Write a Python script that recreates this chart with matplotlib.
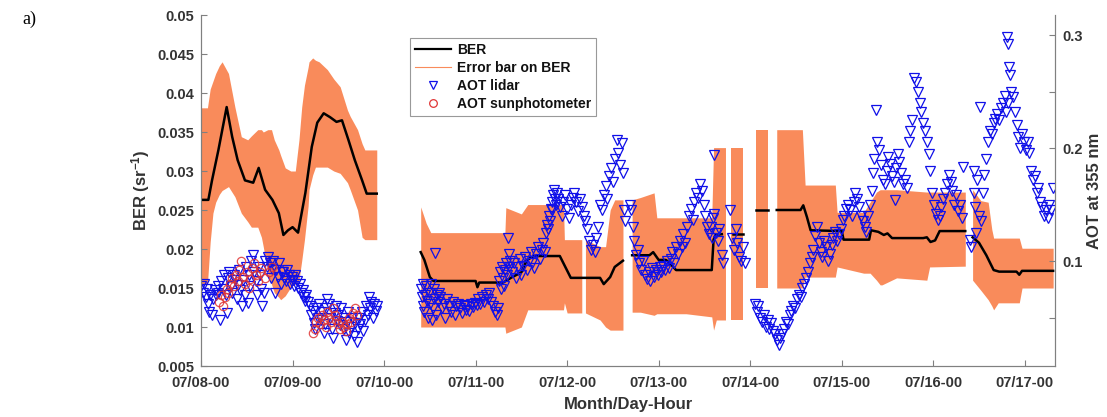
import numpy as np
import matplotlib
matplotlib.use("Agg")
import matplotlib.pyplot as plt
from matplotlib.lines import Line2D
from matplotlib.ticker import FuncFormatter

plt.rcParams['font.family'] = ['Liberation Sans', 'DejaVu Sans']
plt.rcParams['font.weight'] = 'bold'
plt.rcParams['mathtext.fontset'] = 'custom'
plt.rcParams['mathtext.rm'] = 'Liberation Sans:bold'
plt.rcParams['mathtext.bf'] = 'Liberation Sans:bold'
plt.rcParams['mathtext.default'] = 'bf'

# time is in days since 07/08 00:00
day_ticks = [0, 1, 2, 3, 4, 5, 6, 7, 8, 9]
day_labels = ['07/08-00', '07/09-00', '07/10-00', '07/11-00', '07/12-00',
              '07/13-00', '07/14-00', '07/15-00', '07/16-00', '07/17-00']

# ---------------- BER line (segments) ----------------
ber_t1 = [0.00, 0.08, 0.12, 0.19, 0.28, 0.34, 0.40, 0.48, 0.57, 0.63, 0.70, 0.78, 0.85, 0.90,
          0.95, 1.00, 1.06, 1.14, 1.21, 1.27, 1.34, 1.41, 1.48, 1.54, 1.61, 1.68, 1.76, 1.81, 1.92]
ber_v1 = [0.0263, 0.0263, 0.0288, 0.0327, 0.0382, 0.0344, 0.0314, 0.0288, 0.0285, 0.0304, 0.0276,
          0.0263, 0.0246, 0.0218, 0.0224, 0.0228, 0.0221, 0.0272, 0.0331, 0.0362, 0.0374, 0.0369,
          0.0363, 0.0365, 0.0340, 0.0314, 0.0288, 0.0271, 0.0271]
ber_t2 = [2.40, 2.44, 2.50, 2.54, 3.00, 3.02, 3.04, 3.30, 3.40, 3.50, 3.56, 3.64, 3.92, 3.98,
          4.04, 4.36, 4.40, 4.47, 4.52, 4.61]
ber_v2 = [0.0196, 0.0186, 0.0164, 0.0159, 0.0159, 0.0151, 0.0157, 0.0157, 0.0164, 0.0170,
          0.0186, 0.0191, 0.0191, 0.0177, 0.0163, 0.0163, 0.0155, 0.0164, 0.0177, 0.0185]
ber_t3 = [4.71, 4.90, 4.94, 5.00, 5.08, 5.12, 5.19, 5.58, 5.60, 5.62, 5.69]
ber_v3 = [0.0192, 0.0192, 0.0196, 0.0186, 0.0186, 0.0182, 0.0173, 0.0173, 0.0212, 0.0218, 0.0219]
ber_t4 = [5.81, 5.92]
ber_v4 = [0.0219, 0.0219]
ber_t5 = [6.06, 6.20]
ber_v5 = [0.0250, 0.0250]
ber_t6 = [6.29, 6.55, 6.58, 6.62, 6.66, 7.00, 7.02, 7.30, 7.32, 7.40, 7.46, 7.50, 7.55, 7.89,
          7.93, 7.97, 8.02, 8.07, 8.35]
ber_v6 = [0.0250, 0.0250, 0.0256, 0.0241, 0.0224, 0.0223, 0.0212, 0.0212, 0.0224, 0.0222,
          0.0218, 0.0220, 0.0214, 0.0214, 0.0215, 0.0209, 0.0211, 0.0223, 0.0223]
ber_t7 = [8.43, 8.50, 8.58, 8.66, 8.72, 8.91, 8.94, 8.97, 9.31]
ber_v7 = [0.0215, 0.0208, 0.0192, 0.0173, 0.0171, 0.0171, 0.0167, 0.0172, 0.0172]

# ---------------- BER error band (segments) ----------------
err_t1 = [0.00, 0.07, 0.10, 0.13, 0.16, 0.20, 0.23, 0.30, 0.37, 0.44, 0.51, 0.55, 0.62, 0.66,
          0.68, 0.73, 0.77, 0.80, 0.85, 0.87, 0.92, 0.98, 1.03, 1.07, 1.10, 1.13, 1.17, 1.18,
          1.22, 1.25, 1.29, 1.38, 1.45, 1.52, 1.60, 1.63, 1.71, 1.76, 1.79, 1.92]
err_lo1 = [0.0155, 0.0155, 0.0209, 0.0246, 0.0260, 0.0270, 0.0275, 0.0280, 0.0267, 0.0246,
           0.0235, 0.0228, 0.0228, 0.0215, 0.0203, 0.0169, 0.0155, 0.0144, 0.0138, 0.0135,
           0.0140, 0.0151, 0.0155, 0.0160, 0.0185, 0.0212, 0.0255, 0.0276, 0.0295, 0.0305,
           0.0305, 0.0305, 0.0300, 0.0297, 0.0285, 0.0276, 0.0250, 0.0215, 0.0212, 0.0212]
err_hi1 = [0.0381, 0.0381, 0.0405, 0.0415, 0.0425, 0.0435, 0.0440, 0.0425, 0.0382, 0.0344,
           0.0340, 0.0345, 0.0353, 0.0353, 0.0350, 0.0353, 0.0353, 0.0340, 0.0327, 0.0320,
           0.0304, 0.0300, 0.0300, 0.0340, 0.0382, 0.0410, 0.0433, 0.0440, 0.0445, 0.0442,
           0.0440, 0.0430, 0.0418, 0.0408, 0.0378, 0.0370, 0.0353, 0.0335, 0.0327, 0.0327]
err_t2 = [2.40, 2.46, 2.51, 3.32, 3.33, 3.50, 3.57, 3.96, 3.97, 4.00, 4.16]
err_lo2 = [0.0100, 0.0100, 0.0100, 0.0100, 0.0092, 0.0100, 0.0122, 0.0122, 0.0131, 0.0118, 0.0118]
err_hi2 = [0.0254, 0.0233, 0.0221, 0.0221, 0.0253, 0.0245, 0.0257, 0.0257, 0.0212, 0.0212, 0.0212]
err_t3 = [4.20, 4.36, 4.42, 4.47, 4.52, 4.61]
err_lo3 = [0.0118, 0.0109, 0.0100, 0.0096, 0.0096, 0.0096]
err_hi3 = [0.0212, 0.0203, 0.0203, 0.0250, 0.0263, 0.0263]
err_t4 = [4.71, 4.80, 4.95, 4.98, 5.30, 5.58, 5.60, 5.63, 5.73]
err_lo4 = [0.0119, 0.0119, 0.0115, 0.0117, 0.0117, 0.0113, 0.0096, 0.0109, 0.0109]
err_hi4 = [0.0263, 0.0266, 0.0272, 0.0240, 0.0240, 0.0240, 0.0330, 0.0330, 0.0330]
err_t5 = [5.79, 5.92]
err_lo5 = [0.0109, 0.0109]
err_hi5 = [0.0330, 0.0330]
err_t6 = [6.06, 6.20]
err_lo6 = [0.0150, 0.0150]
err_hi6 = [0.0353, 0.0353]
err_t7 = [6.29, 6.57, 6.60, 6.93, 6.95, 7.24, 7.31, 7.38, 7.42, 7.44, 7.60, 7.93, 7.96, 8.35]
err_lo7 = [0.0150, 0.0150, 0.0164, 0.0164, 0.0177, 0.0169, 0.0169, 0.0160, 0.0154, 0.0154,
           0.0163, 0.0160, 0.0177, 0.0178]
err_hi7 = [0.0353, 0.0353, 0.0282, 0.0282, 0.0247, 0.0247, 0.0260, 0.0273, 0.0276, 0.0276,
           0.0276, 0.0273, 0.0273, 0.0273]
err_t8 = [8.43, 8.52, 8.60, 8.64, 8.66, 8.71, 8.94, 8.97, 9.31]
err_lo8 = [0.0160, 0.0147, 0.0135, 0.0127, 0.0122, 0.0131, 0.0131, 0.0150, 0.0150]
err_hi8 = [0.0276, 0.0262, 0.0260, 0.0225, 0.0214, 0.0214, 0.0214, 0.0201, 0.0201]

# ---------------- AOT lidar ----------------
lidar_t1 = [0.00, 0.02, 0.03, 0.05, 0.06, 0.08, 0.09, 0.10, 0.12, 0.13, 0.15, 0.16, 0.18, 0.19,
            0.21, 0.22, 0.24, 0.25, 0.27, 0.28, 0.30, 0.31, 0.33, 0.34, 0.36, 0.37, 0.39, 0.40,
            0.42, 0.43, 0.45, 0.46, 0.48, 0.49, 0.51, 0.52, 0.54, 0.55,
            0.57, 0.58, 0.60, 0.61, 0.63, 0.64, 0.66, 0.67, 0.69, 0.70, 0.72, 0.73, 0.75, 0.76,
            0.78, 0.79, 0.81, 0.82, 0.84, 0.85, 0.87, 0.88,
            0.90, 0.91, 0.93, 0.94, 0.96, 0.97, 0.99, 1.00, 1.02, 1.03, 1.05, 1.06, 1.08, 1.09,
            1.11, 1.12, 1.14, 1.15, 1.17,
            1.19, 1.20, 1.22, 1.23, 1.25, 1.26, 1.28, 1.29, 1.31, 1.32, 1.34, 1.35, 1.37, 1.38,
            1.40, 1.41, 1.43, 1.44, 1.46, 1.47, 1.49, 1.50, 1.52, 1.53, 1.55, 1.56, 1.58, 1.59,
            1.61, 1.62, 1.64, 1.65, 1.67, 1.68, 1.70, 1.71, 1.73, 1.74, 1.76, 1.77, 1.79, 1.80,
            1.82, 1.83, 1.85, 1.86, 1.88, 1.89, 1.91, 1.92]
lidar_aot1 = [0.078, 0.072, 0.080, 0.068, 0.075, 0.062, 0.055, 0.070, 0.052, 0.066, 0.074, 0.070,
              0.078, 0.072, 0.048, 0.082, 0.075, 0.088, 0.070, 0.054, 0.085, 0.090, 0.078, 0.072,
              0.088, 0.083, 0.066, 0.079, 0.092, 0.074, 0.060, 0.083, 0.070, 0.095, 0.063, 0.088,
              0.078, 0.100,
              0.105, 0.090, 0.082, 0.070, 0.095, 0.088, 0.075, 0.060, 0.072, 0.100, 0.095, 0.104,
              0.098, 0.085, 0.093, 0.100, 0.072, 0.092, 0.086, 0.098, 0.080, 0.090,
              0.090, 0.085, 0.082, 0.092, 0.088, 0.080, 0.086, 0.083, 0.078, 0.088, 0.082, 0.076,
              0.080, 0.072, 0.074, 0.068, 0.065, 0.070, 0.064,
              0.060, 0.052, 0.056, 0.045, 0.040, 0.058, 0.050, 0.062, 0.048, 0.055, 0.036, 0.044,
              0.058, 0.066, 0.062, 0.050, 0.040, 0.032, 0.054, 0.060, 0.047, 0.052, 0.043, 0.058,
              0.050, 0.040, 0.030, 0.046, 0.055, 0.036, 0.042, 0.050, 0.034, 0.045, 0.028, 0.040,
              0.050, 0.044, 0.055, 0.038, 0.048, 0.060, 0.052, 0.068, 0.058, 0.064, 0.050, 0.062,
              0.056, 0.060]

lidar_t2 = [2.40, 2.41, 2.42, 2.43, 2.44, 2.45, 2.46, 2.47, 2.48, 2.49, 2.50, 2.51, 2.52, 2.53,
            2.54, 2.55, 2.56, 2.57, 2.58, 2.59, 2.60,
            2.61, 2.63, 2.65, 2.67, 2.69, 2.71, 2.73, 2.75, 2.77, 2.79, 2.81, 2.83, 2.85, 2.87,
            2.89, 2.91, 2.93, 2.95, 2.97, 2.99, 3.01, 3.03, 3.05, 3.07, 3.09, 3.11, 3.13, 3.15,
            3.17, 3.19, 3.21, 3.23, 3.25,
            3.26, 3.27, 3.28, 3.29, 3.30, 3.31, 3.32, 3.33, 3.34, 3.35, 3.36, 3.37, 3.38,
            3.40, 3.42, 3.44, 3.46, 3.48, 3.50, 3.52, 3.54, 3.56, 3.58, 3.60, 3.62, 3.64, 3.66,
            3.68, 3.70, 3.72, 3.74, 3.76,
            3.77, 3.78, 3.79, 3.80, 3.81, 3.82, 3.83, 3.84, 3.85, 3.86, 3.87, 3.88, 3.89,
            3.90, 3.92, 3.94, 3.96, 3.98, 4.00, 4.02, 4.04, 4.06, 4.08, 4.10, 4.12, 4.14, 4.16,
            4.18, 4.20, 4.22, 4.24, 4.26, 4.28, 4.30, 4.32, 4.34,
            4.36, 4.38, 4.40, 4.42, 4.44, 4.46, 4.48, 4.50, 4.52, 4.54, 4.56, 4.58, 4.60, 4.61,
            4.62, 4.63, 4.69, 4.70, 4.72]
lidar_aot2 = [0.075, 0.068, 0.060, 0.080, 0.055, 0.070, 0.078, 0.065, 0.050, 0.072, 0.062, 0.080,
              0.048, 0.058, 0.075, 0.066, 0.107, 0.052, 0.070, 0.064, 0.072,
              0.068, 0.058, 0.062, 0.050, 0.066, 0.060, 0.055, 0.064, 0.052, 0.060, 0.062, 0.058,
              0.054, 0.061, 0.057, 0.060, 0.056, 0.062, 0.059, 0.063, 0.061, 0.066, 0.062, 0.068,
              0.064, 0.070, 0.066, 0.072, 0.064, 0.060, 0.055, 0.052, 0.058,
              0.082, 0.090, 0.075, 0.095, 0.085, 0.078, 0.092, 0.098, 0.088, 0.120, 0.106, 0.095,
              0.100,
              0.090, 0.098, 0.085, 0.095, 0.102, 0.088, 0.096, 0.104, 0.092, 0.100, 0.108, 0.098,
              0.094, 0.106, 0.112, 0.102, 0.110, 0.116, 0.108,
              0.125, 0.132, 0.128, 0.140, 0.135, 0.146, 0.152, 0.145, 0.158, 0.163, 0.155, 0.150,
              0.160,
              0.155, 0.148, 0.140, 0.152, 0.158, 0.146, 0.138, 0.150, 0.156, 0.160, 0.152, 0.144,
              0.155, 0.148, 0.140, 0.135, 0.128, 0.118, 0.110, 0.114, 0.108, 0.120, 0.130,
              0.150, 0.145, 0.158, 0.166, 0.155, 0.175, 0.182, 0.170, 0.190, 0.207, 0.196, 0.185,
              0.204, 0.178, 0.145, 0.135, 0.150, 0.145, 0.130]

lidar_t3 = [4.73, 4.75, 4.77, 4.79, 4.81, 4.83, 4.85, 4.87, 4.89, 4.91, 4.93, 4.95, 4.97, 4.99,
            5.01, 5.03, 5.05, 5.07, 5.09, 5.11, 5.13, 5.15, 5.17, 5.19, 5.21, 5.23, 5.25, 5.27,
            5.29, 5.31, 5.33, 5.35, 5.37, 5.39, 5.41, 5.43, 5.45, 5.47, 5.49, 5.51, 5.53, 5.55,
            5.57, 5.58, 5.59, 5.60, 5.61, 5.63, 5.65, 5.66, 5.69, 5.70,
            5.78, 5.80, 5.82, 5.84, 5.86, 5.88, 5.90, 5.92, 5.94,
            6.05, 6.07, 6.09, 6.11, 6.13, 6.15, 6.17, 6.19, 6.21, 6.23, 6.25, 6.27, 6.29, 6.31,
            6.33, 6.35, 6.37, 6.39, 6.41, 6.43, 6.45, 6.47, 6.49, 6.51, 6.53, 6.55, 6.57, 6.59,
            6.61, 6.63, 6.65, 6.67]
lidar_aot3 = [0.118, 0.105, 0.110, 0.098, 0.092, 0.100, 0.088, 0.084, 0.090, 0.082, 0.094, 0.086,
              0.092, 0.088, 0.095, 0.090, 0.096, 0.092, 0.100, 0.094, 0.102, 0.108, 0.098, 0.112,
              0.106, 0.118, 0.112, 0.124, 0.116, 0.130, 0.140, 0.146, 0.136, 0.152, 0.160, 0.156,
              0.168, 0.162, 0.150, 0.140, 0.130, 0.124,
              0.130, 0.120, 0.138, 0.194, 0.142, 0.125, 0.118, 0.128, 0.105, 0.098,
              0.145, 0.120, 0.110, 0.128, 0.116, 0.104, 0.100, 0.112, 0.098,
              0.062, 0.055, 0.060, 0.050, 0.046, 0.052, 0.042, 0.048, 0.040, 0.045, 0.038, 0.035,
              0.030, 0.026, 0.032, 0.035, 0.040, 0.046, 0.044, 0.052, 0.056, 0.060, 0.058, 0.066,
              0.070, 0.068, 0.076, 0.080, 0.085, 0.090, 0.098, 0.104]

lidar_t4 = [6.69, 6.71, 6.73, 6.75, 6.77, 6.79, 6.81, 6.83, 6.85, 6.87, 6.89, 6.91, 6.93, 6.95,
            6.97, 6.99, 7.01, 7.03, 7.05, 7.07, 7.09, 7.11, 7.13, 7.15, 7.17, 7.19, 7.21, 7.23,
            7.25, 7.27, 7.29, 7.31, 7.33,
            7.34, 7.35, 7.37, 7.39, 7.41, 7.43, 7.45, 7.47, 7.49, 7.51, 7.53, 7.55, 7.57, 7.58,
            7.59, 7.61, 7.63, 7.65, 7.67, 7.69, 7.71,
            7.73, 7.75, 7.77, 7.79, 7.81, 7.83, 7.85, 7.87, 7.89, 7.91, 7.93, 7.95,
            7.97, 7.99, 8.01, 8.03, 8.05, 8.07, 8.09, 8.11,
            8.13, 8.15, 8.17, 8.19, 8.21, 8.23, 8.25, 8.27, 8.29, 8.31, 8.33, 8.40, 8.41,
            8.44, 8.45, 8.46, 8.47, 8.48, 8.50, 8.51, 8.52, 8.54, 8.56, 8.58,
            8.60, 8.62, 8.64, 8.66, 8.68, 8.70, 8.72, 8.74, 8.76, 8.78, 8.80, 8.82,
            8.81, 8.82, 8.83, 8.84,
            8.85, 8.87, 8.89, 8.91, 8.93, 8.95, 8.97, 8.99, 9.01, 9.03, 9.05,
            9.07, 9.09, 9.11, 9.13, 9.15, 9.17, 9.19, 9.21, 9.23, 9.25, 9.27, 9.29, 9.31]
lidar_aot4 = [0.110, 0.122, 0.130, 0.116, 0.108, 0.104, 0.118, 0.112, 0.100, 0.106, 0.114, 0.120,
              0.126, 0.118, 0.124, 0.128, 0.136, 0.140, 0.146, 0.150, 0.145, 0.140, 0.152, 0.160,
              0.155, 0.148, 0.140, 0.135, 0.130, 0.126, 0.140, 0.150, 0.162,
              0.178, 0.190, 0.234, 0.205, 0.198, 0.185, 0.172, 0.168, 0.180, 0.192, 0.186, 0.175,
              0.170, 0.154, 0.182, 0.195, 0.188, 0.178, 0.168, 0.172, 0.165,
              0.205, 0.215, 0.225, 0.262, 0.258, 0.250, 0.240, 0.232, 0.222, 0.215, 0.205, 0.195,
              0.180, 0.160, 0.150, 0.142, 0.136, 0.140, 0.148, 0.155,
              0.160, 0.168, 0.176, 0.170, 0.162, 0.150, 0.158, 0.144, 0.150, 0.138, 0.183, 0.119,
              0.112,
              0.180, 0.160, 0.148, 0.125, 0.172, 0.140, 0.236, 0.135, 0.160, 0.176, 0.190,
              0.205, 0.215, 0.212, 0.222, 0.226, 0.230, 0.225, 0.235, 0.240, 0.246, 0.232, 0.240,
              0.298, 0.292, 0.272, 0.265,
              0.250, 0.245, 0.232, 0.220, 0.210, 0.200, 0.212, 0.205, 0.198, 0.205, 0.196,
              0.180, 0.172, 0.175, 0.160, 0.165, 0.152, 0.148, 0.140, 0.145, 0.138, 0.150, 0.145,
              0.165]

# ---------------- AOT sunphotometer ----------------
sun_t = [0.20, 0.22, 0.24, 0.26, 0.28, 0.30, 0.32, 0.34, 0.36, 0.38, 0.40, 0.42, 0.44, 0.46,
         0.48, 0.50, 0.52, 0.54, 0.56, 0.58, 0.60, 0.62, 0.64, 0.66, 0.70, 0.74, 0.78,
         1.22, 1.24, 1.26, 1.28, 1.30, 1.32, 1.34, 1.36, 1.38, 1.40, 1.42, 1.44, 1.46, 1.48,
         1.50, 1.52, 1.54, 1.56, 1.58, 1.60, 1.62, 1.64, 1.66, 1.68, 1.70]
sun_aot = [0.064, 0.070, 0.060, 0.068, 0.075, 0.072, 0.080, 0.085, 0.078, 0.088, 0.082, 0.092,
           0.100, 0.086, 0.080, 0.090, 0.076, 0.084, 0.094, 0.098, 0.088, 0.082, 0.090, 0.094,
           0.085, 0.090, 0.095,
           0.036, 0.040, 0.046, 0.050, 0.044, 0.052, 0.048, 0.042, 0.055, 0.050, 0.046, 0.058,
           0.052, 0.048, 0.044, 0.040, 0.046, 0.042, 0.038, 0.044, 0.050, 0.046, 0.054, 0.058,
           0.052]

band_color = '#F98B5B'
axis_color = '#808080'
text_color = '#333333'

fig = plt.figure(figsize=(11.07, 4.17), dpi=100)
ax = fig.add_axes([0.1816, 0.1223, 0.7714, 0.8417])
ax2 = ax.twinx()

bands = [(err_t1, err_lo1, err_hi1), (err_t2, err_lo2, err_hi2), (err_t3, err_lo3, err_hi3),
         (err_t4, err_lo4, err_hi4), (err_t5, err_lo5, err_hi5), (err_t6, err_lo6, err_hi6),
         (err_t7, err_lo7, err_hi7), (err_t8, err_lo8, err_hi8)]
for bt, lo, hi in bands:
    ax.fill_between(bt, lo, hi, color=band_color, lw=0, zorder=1)

lines = [(ber_t1, ber_v1), (ber_t2, ber_v2), (ber_t3, ber_v3), (ber_t4, ber_v4),
         (ber_t5, ber_v5), (ber_t6, ber_v6), (ber_t7, ber_v7)]
for lt, lv in lines:
    ax.plot(lt, lv, color='black', lw=1.8, zorder=3)

lidar_t = lidar_t1 + lidar_t2 + lidar_t3 + lidar_t4
lidar_aot = lidar_aot1 + lidar_aot2 + lidar_aot3 + lidar_aot4
ax2.plot(lidar_t, lidar_aot, 'v', ls='none', ms=6.5, mfc='none', mec='#1010E8', mew=0.9)
ax2.plot(sun_t, sun_aot, 'o', ls='none', ms=6, mfc='none', mec='#E03535', mew=0.9, alpha=0.85)

ax.set_xlim(0, 9.33)
ax.set_ylim(0.005, 0.05)
ax2.set_ylim(0.0071, 0.3177)

ax.set_yticks(np.arange(0.005, 0.0501, 0.005))
ax.yaxis.set_major_formatter(FuncFormatter(lambda v, _: f'{v:g}'))
ax.set_xticks(day_ticks)
ax.set_xticklabels(day_labels)
ax2.set_yticks([0.05, 0.1, 0.2, 0.25, 0.3])
ax2.set_yticklabels(['', '0.1', '0.2', '', '0.3'])

for a in (ax, ax2):
    a.spines['top'].set_visible(False)
    for s in ('left', 'right', 'bottom'):
        a.spines[s].set_color(axis_color)
        a.spines[s].set_linewidth(0.8)
    a.tick_params(direction='in', length=4, width=0.8, color=axis_color,
                  labelcolor=text_color, labelsize=10.5)
ax.tick_params(axis='x', pad=7)
ax.tick_params(axis='y', pad=5)
ax2.tick_params(axis='y', pad=5)

ax.set_ylabel('BER (sr$^{-1}$)', fontsize=12, fontweight='bold', color=text_color, labelpad=4)
ax2.set_ylabel('AOT at 355 nm', fontsize=12, fontweight='bold', color=text_color, labelpad=3)
ax.set_xlabel('Month/Day-Hour', fontsize=12, fontweight='bold', color=text_color, labelpad=5)

handles = [Line2D([], [], color='black', lw=1.6),
           Line2D([], [], color=band_color, lw=0.8),
           Line2D([], [], marker='v', ls='none', ms=6, mfc='none', mec='#1010E8', mew=0.9),
           Line2D([], [], marker='o', ls='none', ms=5.5, mfc='none', mec='#E03535', mew=0.9)]
leg = ax2.legend(handles, ['BER', 'Error bar on BER', 'AOT lidar', 'AOT sunphotometer'],
                 loc='upper left', bbox_to_anchor=(0.237, 0.955), fontsize=10,
                 frameon=True, fancybox=False, edgecolor='#999999', framealpha=1,
                 handlelength=2.6, handletextpad=0.4, labelspacing=0.3, borderpad=0.35)
leg.get_frame().set_linewidth(0.8)
for t in leg.get_texts():
    t.set_fontweight('bold')
    t.set_color('#111111')

fig.text(0.02, 0.975, 'a)', fontsize=13, family='Liberation Serif', fontweight='normal',
         va='top', ha='left')

fig.savefig('out.png', dpi=100)
